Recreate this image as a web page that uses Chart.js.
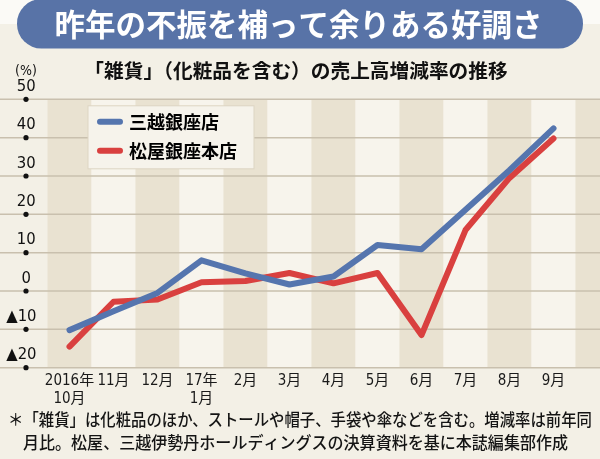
<!DOCTYPE html>
<html lang="ja">
<head>
<meta charset="utf-8">
<title>雑貨の売上高増減率の推移</title>
<script src="https://cdn.jsdelivr.net/npm/chart.js@4.4.1/dist/chart.umd.min.js"></script>
<style>
  html, body { margin: 0; padding: 0; background: #f3f0e6; }
  #wrap { width: 600px; height: 459px; position: relative; }
</style>
</head>
<body>
<div id="wrap"><canvas id="chart"></canvas></div>
<script>
/* --- Data --- */
const months = [['2016年', '10月'], '11月', '12月', ['17年', '1月'], '2月', '3月', '4月', '5月', '6月', '7月', '8月', '9月'];
const mitsukoshi = [-10.2, -5.3, -0.5, 8.0, 4.6, 1.7, 3.8, 12.0, 10.9, 21.2, 31.5, 42.4];
const matsuya = [-14.5, -2.8, -2.2, 2.3, 2.6, 4.7, 2.0, 4.7, -11.5, 15.9, 29.5, 39.8];
const seriesNames = ['三越銀座店', '松屋銀座本店'];
const yMin = -20;
const yMax = 50;
const yStep = 10;

const titleText = '昨年の不振を補って余りある好調さ';
const subtitleText = '「雑貨」（化粧品を含む）の売上高増減率の推移';
const unitText = '(%)';
const noteLines = [
    '＊「雑貨」は化粧品のほか、ストールや帽子、手袋や傘などを含む。増減率は前年同',
    '月比。松屋、三越伊勢丹ホールディングスの決算資料を基に本誌編集部作成'
];

const BLUE = '#5575ae';
const RED = '#d9403f';
const JP = '"Noto Sans CJK JP", "Noto Sans CJK SC", sans-serif';
const COND = '"DejaVu Sans Condensed", "DejaVu Sans", "Noto Sans CJK JP", sans-serif';

/* --- Background, stripes, grid, header, footnote --- */
const backdrop = {
    id: 'backdrop',
    afterLayout(chart) {
        // float the legend inside the plot, top-left
        const lg = chart.legend;
        const a = chart.chartArea;
        lg.left = a.left + 41.5;
        lg.top = a.top + 2.5;
        lg.right = lg.left + lg.width;
        lg.bottom = lg.top + lg.height;
    },
    beforeDraw(chart) {
        const { ctx, chartArea: a, scales: { x, y }, width } = chart;
        ctx.save();

        // page
        ctx.fillStyle = '#f3f0e6';
        ctx.fillRect(0, 0, width, chart.height);
        ctx.fillStyle = '#fbfaf6';
        ctx.fillRect(0, 0, width, 24);

        // title pill
        ctx.fillStyle = '#5873a7';
        ctx.beginPath();
        ctx.roundRect(17, -1, 566, 49.5, 24.5);
        ctx.fill();
        ctx.fillStyle = '#ffffff';
        ctx.font = 'bold 30.5px ' + JP;
        ctx.textAlign = 'center';
        ctx.textBaseline = 'middle';
        ctx.fillText(titleText, 298.5, 24.5);

        // subtitle
        ctx.fillStyle = '#111111';
        ctx.font = 'bold 19.7px ' + JP;
        ctx.fillText(subtitleText, 296, 70.5);

        // unit
        ctx.font = '14px ' + COND;
        ctx.fillText(unitText, 26, 71);

        // alternating column stripes (one extra band to the right edge)
        const band = x.getPixelForValue(1) - x.getPixelForValue(0);
        for (let i = 0; i < months.length; i++) {
            const cx = x.getPixelForValue(i);
            ctx.fillStyle = i % 2 === 0 ? '#e9e2d1' : '#f7f4ec';
            ctx.fillRect(cx - band / 2, a.top, band, a.bottom - a.top);
        }
        ctx.fillStyle = months.length % 2 === 0 ? '#e9e2d1' : '#f7f4ec';
        ctx.fillRect(a.right, a.top, width - a.right, a.bottom - a.top);

        // horizontal grid across the full width + dots under the tick labels
        ctx.strokeStyle = '#c9c0ae';
        ctx.lineWidth = 1.5;
        y.ticks.forEach(t => {
            const py = y.getPixelForValue(t.value);
            ctx.beginPath();
            ctx.moveTo(0, py);
            ctx.lineTo(width, py);
            ctx.stroke();
        });
        ctx.fillStyle = '#111111';
        y.ticks.forEach(t => {
            const py = y.getPixelForValue(t.value);
            ctx.beginPath();
            ctx.arc(26, py, 2.6, 0, Math.PI * 2);
            ctx.fill();
        });

        // legend panel
        const lg = chart.legend;
        ctx.fillStyle = '#f6f3eb';
        ctx.strokeStyle = '#ddd5c3';
        ctx.lineWidth = 1;
        ctx.fillRect(lg.left - 1, lg.top + 4, 166, 63);
        ctx.strokeRect(lg.left - 1, lg.top + 4, 166, 63);

        // footnote
        ctx.fillStyle = '#141414';
        ctx.font = '500 16.5px ' + JP;
        ctx.textAlign = 'left';
        ctx.fillText(noteLines[0], 8, 420, 584);
        ctx.fillText(noteLines[1], 23, 442.5, 545);

        ctx.restore();
    }
};

/* --- Chart --- */
function initChart() {
    const ctx = document.getElementById('chart');
    new Chart(ctx, {
        type: 'line',
        data: {
            labels: months,
            datasets: [
                {
                    label: seriesNames[0],
                    data: mitsukoshi,
                    borderColor: BLUE,
                    backgroundColor: BLUE,
                    borderWidth: 6,
                    borderJoinStyle: 'round',
                    borderCapStyle: 'round',
                    pointRadius: 0,
                    tension: 0
                },
                {
                    label: seriesNames[1],
                    data: matsuya,
                    borderColor: RED,
                    backgroundColor: RED,
                    borderWidth: 6,
                    borderJoinStyle: 'round',
                    borderCapStyle: 'round',
                    pointRadius: 0,
                    tension: 0
                }
            ]
        },
        options: {
            responsive: true,
            maintainAspectRatio: false,
            animation: false,
            devicePixelRatio: 1,
            layout: { padding: { left: 0, right: 24.5, top: 99.3, bottom: 41.3 } },
            plugins: {
                tooltip: { enabled: false },
                legend: {
                    position: 'chartArea',
                    align: 'start',
                    labels: {
                        usePointStyle: true,
                        pointStyleWidth: 20,
                        padding: 11,
                        color: '#111111',
                        font: { family: JP, size: 18, weight: 'bold' },
                        generateLabels: (chart) => chart.data.datasets.map((ds, i) => ({
                            text: ds.label,
                            strokeStyle: ds.borderColor,
                            fillStyle: ds.borderColor,
                            lineWidth: 6,
                            lineCap: 'round',
                            pointStyle: 'line',
                            hidden: false,
                            datasetIndex: i
                        }))
                    }
                }
            },
            scales: {
                x: {
                    type: 'category',
                    offset: true,
                    grid: { display: false, drawTicks: false },
                    border: { display: false },
                    afterFit: (s) => { s.height = 50; },
                    ticks: {
                        autoSkip: false,
                        maxRotation: 0,
                        padding: 4.5,
                        color: '#1a1a1a',
                        font: { family: COND, size: 15, lineHeight: '18px' }
                    }
                },
                y: {
                    min: yMin,
                    max: yMax,
                    grid: { display: false, drawTicks: false },
                    border: { display: false },
                    afterFit: (s) => { s.width = 47.5; },
                    ticks: {
                        stepSize: yStep,
                        autoSkip: false,
                        crossAlign: 'center',
                        padding: 1.5,
                        color: '#111111',
                        font: { family: COND, size: 16.5, lineHeight: '25px' },
                        // label sits above its grid line; ▲ marks negatives
                        callback: (v) => [v < 0 ? '▲' + (-v) + '\u2007' : String(v), '']
                    }
                }
            }
        },
        plugins: [backdrop]
    });
}

document.addEventListener('DOMContentLoaded', initChart);
</script>
</body>
</html>
